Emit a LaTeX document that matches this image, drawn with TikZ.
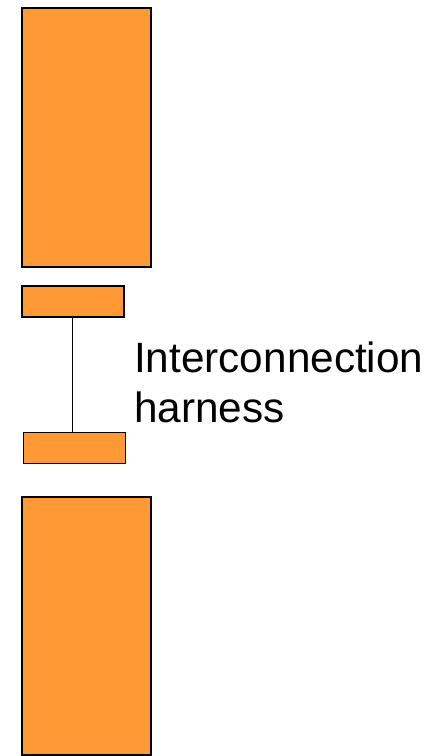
\documentclass[tikz,border=0pt]{standalone}
\usepackage{fontspec}
\setmainfont{Liberation Sans}
\definecolor{harnessorange}{HTML}{FF9933}
\tikzset{
    block/.style={draw=black, fill=harnessorange, line width=1.2pt, inner sep=0pt, outer sep=0pt, anchor=north west},
    plug/.style={block, minimum width=102pt, minimum height=31pt},
}
\begin{document}
\begin{tikzpicture}[x=1pt, y=-1pt]
            \useasboundingbox (0,0) rectangle (447,756);

            \node[block, minimum width=129pt, minimum height=259pt] (upperbox) at (22,8) {};
            \node[plug] (upperplug) at (22,286) {};
            \node[plug] (lowerplug) at (23.5,432.5) {};
            \node[block, minimum width=129pt, minimum height=258pt] (lowerbox) at (22,497) {};

            \draw[black, line width=1.2pt] (upperplug.south -| 72.5,0) -- (lowerplug.north -| 72.5,0);

            \node[anchor=base west, inner sep=0pt, align=left, font=\fontsize{42.3}{50}\selectfont] (harnesslabel) at (134,422.7) {Interconnection\\harness};
        \end{tikzpicture}
\end{document}
